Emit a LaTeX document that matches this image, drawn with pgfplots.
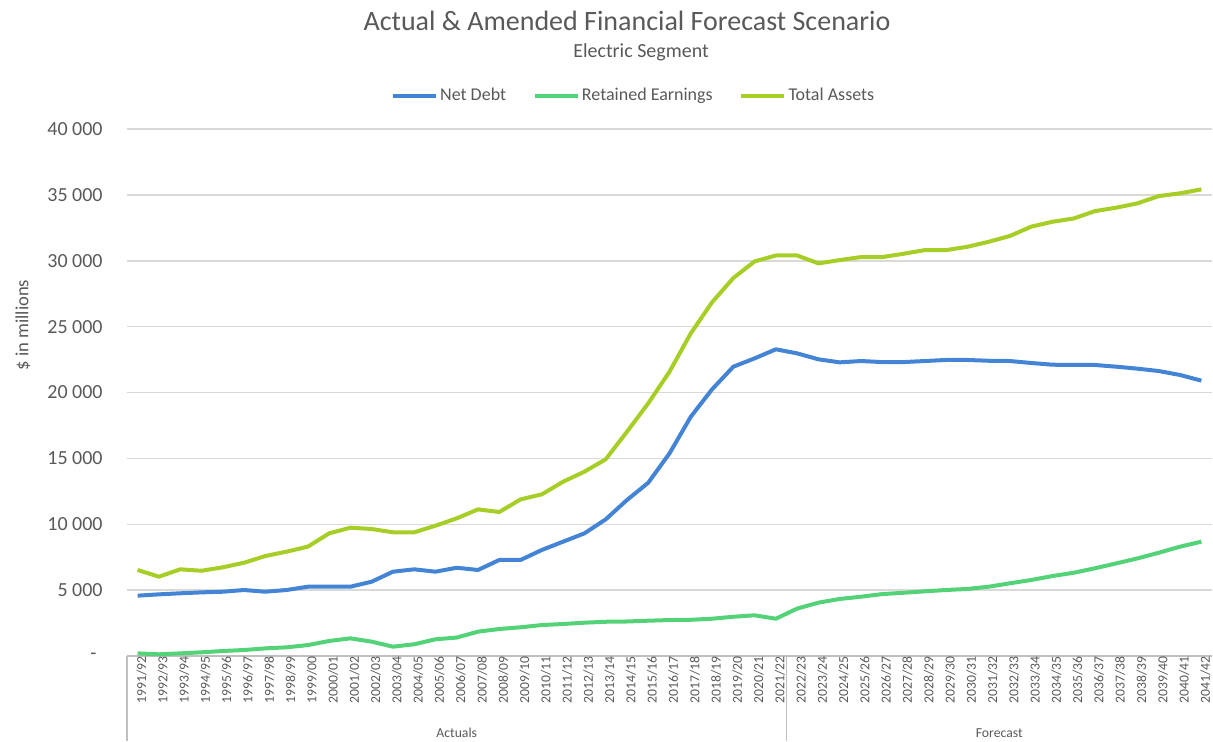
\documentclass[border=0pt]{standalone}
\usepackage{fontspec}
\setmainfont{Carlito}
\usepackage{pgfplots}
\pgfplotsset{compat=1.18}
\definecolor{nd}{HTML}{4484D4}
\definecolor{re}{HTML}{54D278}
\definecolor{ta}{HTML}{A6CE26}
\definecolor{txt}{HTML}{595959}
\definecolor{grd}{HTML}{D9D9D9}
\definecolor{axl}{HTML}{BFBFBF}
\begin{document}
\begin{tikzpicture}
\useasboundingbox (0,0) rectangle (606.5pt,370.5pt);
\node[anchor=base, font=\fontsize{14}{16}\selectfont, text=txt, inner sep=0pt] at (313.5pt,355.5pt) {Actual \& Amended Financial Forecast Scenario};
\node[anchor=base, font=\fontsize{10}{12}\selectfont, text=txt, inner sep=0pt] at (320.5pt,341.5pt) {Electric Segment};
\begin{axis}[
  at={(63.5pt,42.5pt)}, anchor=south west,
  scale only axis, width=542.5pt, height=263.5pt,
  xmin=-0.5, xmax=50.5, ymin=0, ymax=40000,
  clip=false,
  scaled y ticks=false,
  axis x line*=bottom, axis y line*=left,
  x axis line style={draw=axl, line width=0.75pt, -},
  y axis line style={draw=none},
  major tick length=0pt,
  ymajorgrids, grid style={draw=grd, line width=0.75pt},
  ytick={0,5000,10000,15000,20000,25000,30000,35000,40000},
  yticklabels={-\kern3pt, 5 000, 10 000, 15 000, 20 000, 25 000, 30 000, 35 000, 40 000},
  yticklabel style={font=\fontsize{10}{12}\selectfont, text=txt, anchor=east, inner sep=0pt, xshift=-12pt},
  xtick={0,...,50},
  xticklabels={1991/92,1992/93,1993/94,1994/95,1995/96,1996/97,1997/98,1998/99,1999/00,2000/01,2001/02,2002/03,2003/04,2004/05,2005/06,2006/07,2007/08,2008/09,2009/10,2010/11,2011/12,2012/13,2013/14,2014/15,2015/16,2016/17,2017/18,2018/19,2019/20,2020/21,2021/22,2022/23,2023/24,2024/25,2025/26,2026/27,2027/28,2028/29,2029/30,2030/31,2031/32,2032/33,2033/34,2034/35,2035/36,2036/37,2037/38,2038/39,2039/40,2040/41,2041/42},
  xticklabel style={rotate=90, anchor=east, font=\fontsize{6.85}{8}\selectfont, text=txt, inner sep=0pt, yshift=-2pt},
  ylabel={\$ in millions},
  ylabel style={at={(axis description cs:-0.096,0.628)}, anchor=center, font=\fontsize{9.3}{11}\selectfont, text=txt},
  legend style={at={(0.467,1.0626)}, anchor=center, draw=none, fill=none, legend columns=3,
    font=\fontsize{9}{11}\selectfont, text=txt, nodes={inner sep=1.2pt},
    /tikz/every even column/.append style={column sep=12pt}},
  legend image code/.code={\draw[#1, line width=2pt] (0pt,0pt) -- (21.5pt,0pt);},
]
\addplot[nd, line width=2pt, line join=round] coordinates {
(0,4580)(1,4680)(2,4760)(3,4830)(4,4880)(5,5010)(6,4880)(7,5010)(8,5260)(9,5260)
(10,5260)(11,5640)(12,6400)(13,6580)(14,6400)(15,6700)(16,6530)(17,7290)(18,7290)(19,8050)
(20,8680)(21,9310)(22,10370)(23,11840)(24,13150)(25,15380)(26,18160)(27,20240)(28,21960)(29,22590)
(30,23280)(31,22970)(32,22520)(33,22290)(34,22390)(35,22310)(36,22310)(37,22390)(38,22470)(39,22470)
(40,22410)(41,22390)(42,22240)(43,22110)(44,22090)(45,22090)(46,21960)(47,21810)(48,21630)(49,21330)
(50,20900)};
\addlegendentry{Net Debt}
\addplot[re, line width=2pt, line join=round] coordinates {
(0,200)(1,130)(2,200)(3,280)(4,380)(5,455)(6,580)(7,660)(8,830)(9,1140)
(10,1340)(11,1090)(12,710)(13,890)(14,1270)(15,1400)(16,1850)(17,2050)(18,2180)(19,2350)
(20,2430)(21,2530)(22,2600)(23,2620)(24,2680)(25,2730)(26,2750)(27,2830)(28,2980)(29,3090)
(30,2830)(31,3600)(32,4050)(33,4330)(34,4500)(35,4700)(36,4800)(37,4910)(38,5010)(39,5090)
(40,5260)(41,5520)(42,5770)(43,6070)(44,6320)(45,6660)(46,7030)(47,7410)(48,7840)(49,8300)
(50,8680)};
\addlegendentry{Retained Earnings}
\addplot[ta, line width=2pt, line join=round] coordinates {
(0,6530)(1,6020)(2,6580)(3,6470)(4,6730)(5,7080)(6,7590)(7,7920)(8,8300)(9,9310)
(10,9740)(11,9640)(12,9390)(13,9390)(14,9890)(15,10450)(16,11130)(17,10930)(18,11890)(19,12270)
(20,13230)(21,13990)(22,14930)(23,17020)(24,19180)(25,21580)(26,24490)(27,26850)(28,28690)(29,29950)
(30,30400)(31,30400)(32,29800)(33,30050)(34,30280)(35,30280)(36,30530)(37,30810)(38,30810)(39,31060)
(40,31440)(41,31880)(42,32590)(43,32960)(44,33210)(45,33770)(46,34030)(47,34360)(48,34910)(49,35120)
(50,35420)};
\addlegendentry{Total Assets}
\draw[axl, line width=0.75pt] (axis cs:-0.5,0) -- ++(0pt,-42.5pt);
\draw[axl, line width=0.75pt] (axis cs:30.5,0) -- ++(0pt,-42.5pt);
\node[font=\fontsize{6.85}{8}\selectfont, text=txt] at ([yshift=-38.5pt]axis cs:15,0) {Actuals};
\node[font=\fontsize{6.85}{8}\selectfont, text=txt] at ([yshift=-38.5pt]axis cs:40.5,0) {Forecast};
\end{axis}
\end{tikzpicture}
\end{document}
